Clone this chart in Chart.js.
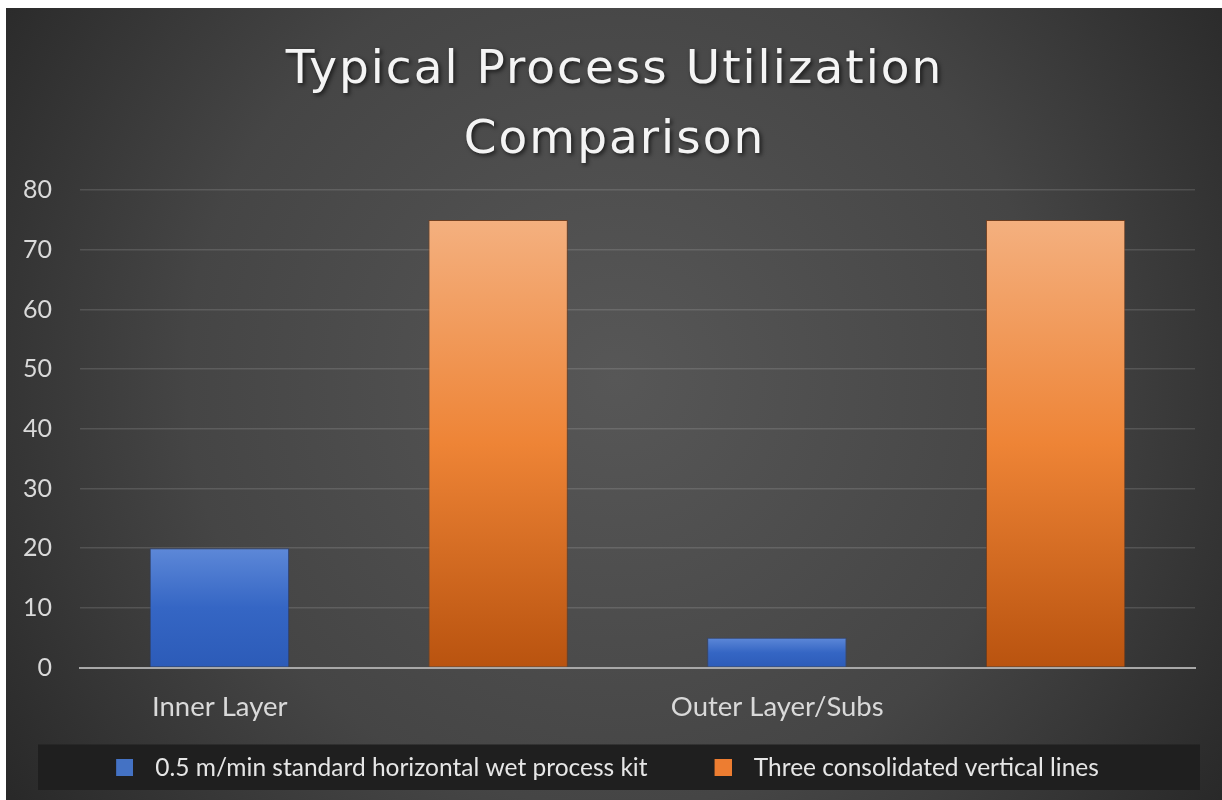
<!DOCTYPE html>
<html>
<head>
<meta charset="utf-8">
<script src="https://cdn.jsdelivr.net/npm/chart.js@4"></script>
<style>
  html, body { margin: 0; padding: 0; background: #ffffff; }
  #wrap { position: absolute; left: 6px; top: 8px; width: 1216px; height: 792px; }
</style>
</head>
<body>
<div id="wrap"><canvas id="utilChart"></canvas></div>
<script>
const categories = ['Inner Layer', 'Outer Layer/Subs'];
const seriesNames = ['0.5 m/min standard horizontal wet process kit', 'Three consolidated vertical lines'];
const horizontalKit = [20, 5];
const verticalLines = [75, 75];
const yTicks = [0, 10, 20, 30, 40, 50, 60, 70, 80];

const blueStops = ['#5d88d8', '#3566c4', '#2c5bb8'];
const orangeStops = ['#f4b07f', '#ee8436', '#b9530f'];
const legendColors = ['#4472c4', '#ed7d31'];

function barGradient(ctx, stops) {
    const chart = ctx.chart;
    if (!chart.chartArea || ctx.parsed === undefined) return stops[1];
    const y = chart.scales.y;
    const top = y.getPixelForValue(ctx.parsed.y);
    const bottom = y.getPixelForValue(0);
    const g = chart.ctx.createLinearGradient(0, top, 0, bottom);
    g.addColorStop(0, stops[0]);
    g.addColorStop(0.5, stops[1]);
    g.addColorStop(1, stops[2]);
    return g;
}

// legend marker: 17px square sitting at the right end of a wider transparent strip,
// which leaves a wide gap before each entry
function swatch(color) {
    const c = document.createElement('canvas');
    c.width = 63;
    c.height = 17;
    const x = c.getContext('2d');
    x.fillStyle = color;
    x.fillRect(46, 0, 17, 17);
    return c;
}
const swatches = legendColors.map(swatch);

function shiftDraw(box, fn) {
    const draw = box.draw.bind(box);
    box.draw = function (area) {
        const c = box.ctx;
        c.save();
        fn(c);
        draw(area);
        c.restore();
    };
}

const backdrop = {
    id: 'backdrop',
    afterInit(chart) {
        shiftDraw(chart.titleBlock, c => {
            c.translate(14, 0);
            c.letterSpacing = '2px';
            c.shadowColor = 'rgba(0, 0, 0, 0.65)';
            c.shadowBlur = 4;
            c.shadowOffsetX = 2;
            c.shadowOffsetY = 2;
        });
        shiftDraw(chart.legend, c => c.translate(-21, 0));
    },
    beforeDraw(chart) {
        const c = chart.ctx;
        const w = chart.width, h = chart.height;
        c.save();
        const g = c.createRadialGradient(610, 370, 0, 610, 370, 780);
        g.addColorStop(0, '#575757');
        g.addColorStop(0.55, '#454545');
        g.addColorStop(1, '#252525');
        c.fillStyle = g;
        c.fillRect(0, 0, w, h);
        // legend band
        const lg = chart.legend;
        c.fillStyle = '#1f1f1f';
        c.fillRect(32, lg.top, 1162, lg.height);
        c.restore();
    }
};

new Chart(document.getElementById('utilChart').getContext('2d'), {
    type: 'bar',
    data: {
        labels: categories,
        datasets: [{
            label: seriesNames[0],
            data: horizontalKit,
            backgroundColor: ctx => barGradient(ctx, blueStops),
            borderColor: 'rgba(40, 70, 140, 0.7)',
            borderWidth: 1,
            barPercentage: 0.5,
            categoryPercentage: 1.0
        }, {
            label: seriesNames[1],
            data: verticalLines,
            backgroundColor: ctx => barGradient(ctx, orangeStops),
            borderColor: 'rgba(130, 60, 15, 0.7)',
            borderWidth: 1,
            barPercentage: 0.5,
            categoryPercentage: 1.0
        }]
    },
    options: {
        responsive: true,
        maintainAspectRatio: false,
        animation: false,
        layout: { padding: { left: 0, right: 27, top: 0, bottom: 10 } },
        plugins: {
            title: {
                display: true,
                text: ['Typical Process Utilization', 'Comparison'],
                color: '#f4f4f4',
                font: { family: 'DejaVu Sans', size: 47, weight: 'normal', lineHeight: 1.48 },
                padding: { top: 28, bottom: 15 }
            },
            legend: {
                position: 'bottom',
                labels: {
                    color: '#e6e6e6',
                    font: { family: 'Lato', size: 24.5 },
                    usePointStyle: true,
                    pointStyleWidth: 83,
                    padding: 11,
                    generateLabels: chart => chart.data.datasets.map((ds, i) => ({
                        text: ds.label,
                        pointStyle: swatches[i],
                        fillStyle: legendColors[i],
                        strokeStyle: 'transparent',
                        lineWidth: 0,
                        fontColor: '#e6e6e6',
                        datasetIndex: i
                    }))
                }
            },
            tooltip: { enabled: false }
        },
        scales: {
            x: {
                grid: { display: false, drawTicks: false },
                border: { color: '#a8a8a8', width: 2 },
                ticks: {
                    color: '#d9d9d9',
                    font: { family: 'Lato', size: 27.5 },
                    padding: 23,
                    labelOffset: -139
                },
                afterFit: scale => { scale.height = 77; }
            },
            y: {
                min: 0,
                max: 80,
                afterBuildTicks: scale => { scale.ticks = yTicks.map(v => ({ value: v })); },
                grid: { color: 'rgba(255, 255, 255, 0.13)', lineWidth: 1.5, drawTicks: false },
                border: { display: false },
                ticks: {
                    color: '#d9d9d9',
                    font: { family: 'Lato', size: 25 },
                    padding: 28
                },
                afterFit: scale => { scale.width = 74; }
            }
        }
    },
    plugins: [backdrop]
});
</script>
</body>
</html>
